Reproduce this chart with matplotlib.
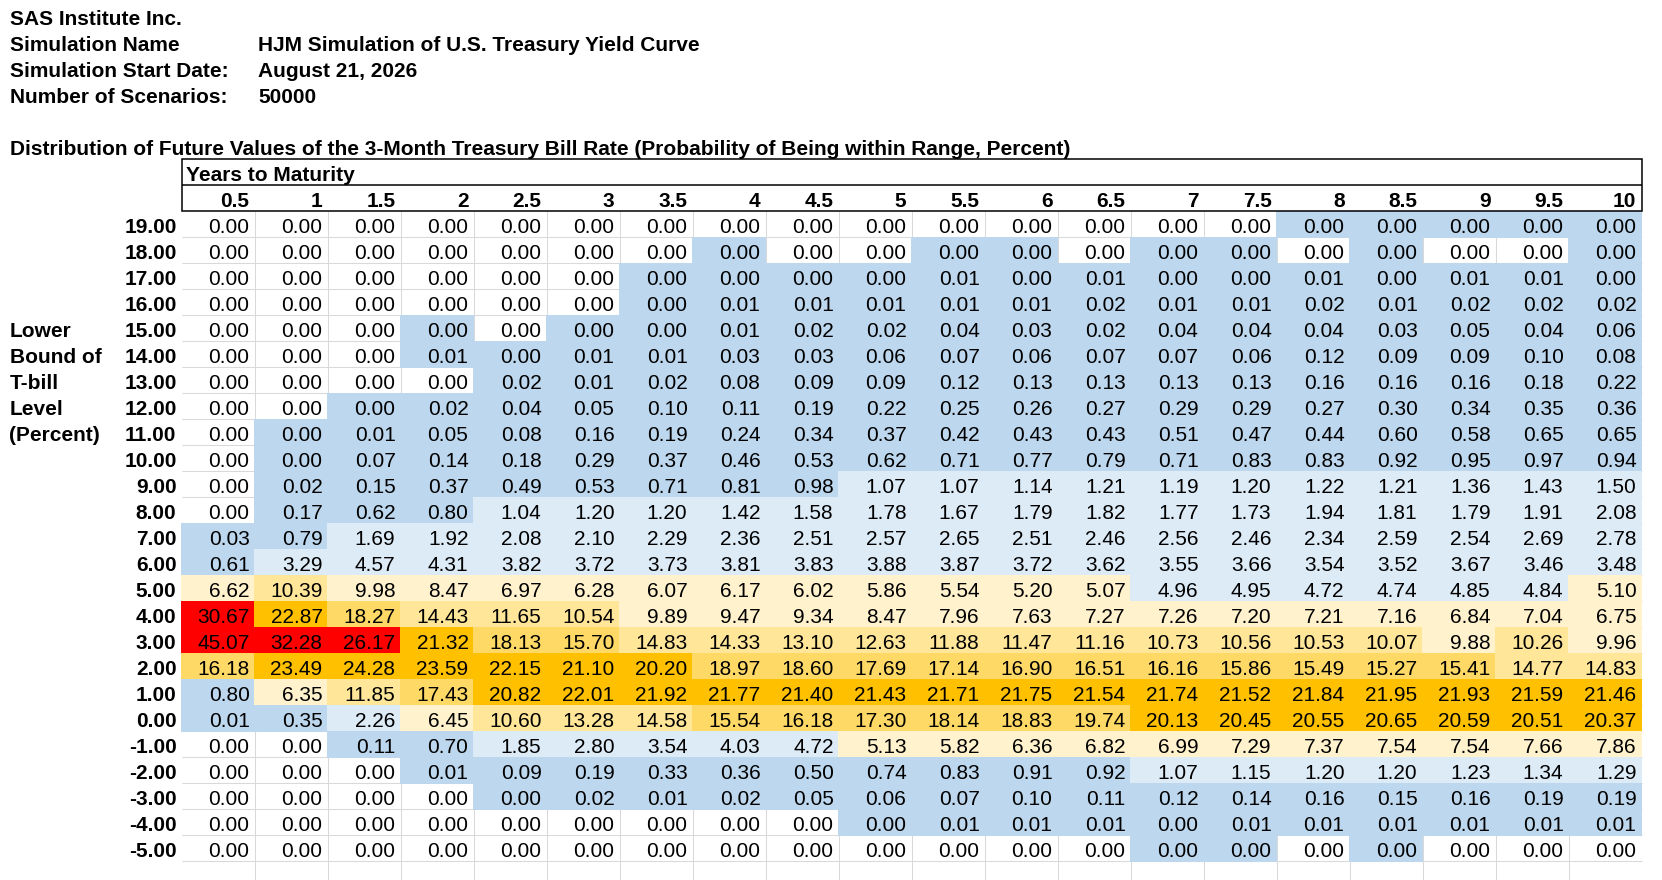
import numpy as np
import matplotlib.pyplot as plt
from matplotlib.patches import Rectangle

plt.rcParams['font.family'] = ['Liberation Sans', 'DejaVu Sans']

# header block
company = "SAS Institute Inc."
info_labels = ["Simulation Name", "Simulation Start Date:", "Number of Scenarios:"]
info_values = ["HJM Simulation of U.S. Treasury Yield Curve", "August 21, 2026", "50000"]
title = ("Distribution of Future Values of the 3-Month Treasury Bill Rate "
         "(Probability of Being within Range, Percent)")
col_title = "Years to Maturity"
row_title = ["Lower", "Bound of", "T-bill", "Level", "(Percent)"]

years = [0.5, 1, 1.5, 2, 2.5, 3, 3.5, 4, 4.5, 5, 5.5, 6, 6.5, 7, 7.5, 8, 8.5, 9, 9.5, 10]
lower_bounds = [19, 18, 17, 16, 15, 14, 13, 12, 11, 10, 9, 8, 7, 6, 5, 4, 3, 2, 1, 0,
                -1, -2, -3, -4, -5]

prob = np.array([
    [0.00, 0.00, 0.00, 0.00, 0.00, 0.00, 0.00, 0.00, 0.00, 0.00, 0.00, 0.00, 0.00, 0.00, 0.00, 0.00, 0.00, 0.00, 0.00, 0.00],
    [0.00, 0.00, 0.00, 0.00, 0.00, 0.00, 0.00, 0.00, 0.00, 0.00, 0.00, 0.00, 0.00, 0.00, 0.00, 0.00, 0.00, 0.00, 0.00, 0.00],
    [0.00, 0.00, 0.00, 0.00, 0.00, 0.00, 0.00, 0.00, 0.00, 0.00, 0.01, 0.00, 0.01, 0.00, 0.00, 0.01, 0.00, 0.01, 0.01, 0.00],
    [0.00, 0.00, 0.00, 0.00, 0.00, 0.00, 0.00, 0.01, 0.01, 0.01, 0.01, 0.01, 0.02, 0.01, 0.01, 0.02, 0.01, 0.02, 0.02, 0.02],
    [0.00, 0.00, 0.00, 0.00, 0.00, 0.00, 0.00, 0.01, 0.02, 0.02, 0.04, 0.03, 0.02, 0.04, 0.04, 0.04, 0.03, 0.05, 0.04, 0.06],
    [0.00, 0.00, 0.00, 0.01, 0.00, 0.01, 0.01, 0.03, 0.03, 0.06, 0.07, 0.06, 0.07, 0.07, 0.06, 0.12, 0.09, 0.09, 0.10, 0.08],
    [0.00, 0.00, 0.00, 0.00, 0.02, 0.01, 0.02, 0.08, 0.09, 0.09, 0.12, 0.13, 0.13, 0.13, 0.13, 0.16, 0.16, 0.16, 0.18, 0.22],
    [0.00, 0.00, 0.00, 0.02, 0.04, 0.05, 0.10, 0.11, 0.19, 0.22, 0.25, 0.26, 0.27, 0.29, 0.29, 0.27, 0.30, 0.34, 0.35, 0.36],
    [0.00, 0.00, 0.01, 0.05, 0.08, 0.16, 0.19, 0.24, 0.34, 0.37, 0.42, 0.43, 0.43, 0.51, 0.47, 0.44, 0.60, 0.58, 0.65, 0.65],
    [0.00, 0.00, 0.07, 0.14, 0.18, 0.29, 0.37, 0.46, 0.53, 0.62, 0.71, 0.77, 0.79, 0.71, 0.83, 0.83, 0.92, 0.95, 0.97, 0.94],
    [0.00, 0.02, 0.15, 0.37, 0.49, 0.53, 0.71, 0.81, 0.98, 1.07, 1.07, 1.14, 1.21, 1.19, 1.20, 1.22, 1.21, 1.36, 1.43, 1.50],
    [0.00, 0.17, 0.62, 0.80, 1.04, 1.20, 1.20, 1.42, 1.58, 1.78, 1.67, 1.79, 1.82, 1.77, 1.73, 1.94, 1.81, 1.79, 1.91, 2.08],
    [0.03, 0.79, 1.69, 1.92, 2.08, 2.10, 2.29, 2.36, 2.51, 2.57, 2.65, 2.51, 2.46, 2.56, 2.46, 2.34, 2.59, 2.54, 2.69, 2.78],
    [0.61, 3.29, 4.57, 4.31, 3.82, 3.72, 3.73, 3.81, 3.83, 3.88, 3.87, 3.72, 3.62, 3.55, 3.66, 3.54, 3.52, 3.67, 3.46, 3.48],
    [6.62, 10.39, 9.98, 8.47, 6.97, 6.28, 6.07, 6.17, 6.02, 5.86, 5.54, 5.20, 5.07, 4.96, 4.95, 4.72, 4.74, 4.85, 4.84, 5.10],
    [30.67, 22.87, 18.27, 14.43, 11.65, 10.54, 9.89, 9.47, 9.34, 8.47, 7.96, 7.63, 7.27, 7.26, 7.20, 7.21, 7.16, 6.84, 7.04, 6.75],
    [45.07, 32.28, 26.17, 21.32, 18.13, 15.70, 14.83, 14.33, 13.10, 12.63, 11.88, 11.47, 11.16, 10.73, 10.56, 10.53, 10.07, 9.88, 10.26, 9.96],
    [16.18, 23.49, 24.28, 23.59, 22.15, 21.10, 20.20, 18.97, 18.60, 17.69, 17.14, 16.90, 16.51, 16.16, 15.86, 15.49, 15.27, 15.41, 14.77, 14.83],
    [0.80, 6.35, 11.85, 17.43, 20.82, 22.01, 21.92, 21.77, 21.40, 21.43, 21.71, 21.75, 21.54, 21.74, 21.52, 21.84, 21.95, 21.93, 21.59, 21.46],
    [0.01, 0.35, 2.26, 6.45, 10.60, 13.28, 14.58, 15.54, 16.18, 17.30, 18.14, 18.83, 19.74, 20.13, 20.45, 20.55, 20.65, 20.59, 20.51, 20.37],
    [0.00, 0.00, 0.11, 0.70, 1.85, 2.80, 3.54, 4.03, 4.72, 5.13, 5.82, 6.36, 6.82, 6.99, 7.29, 7.37, 7.54, 7.54, 7.66, 7.86],
    [0.00, 0.00, 0.00, 0.01, 0.09, 0.19, 0.33, 0.36, 0.50, 0.74, 0.83, 0.91, 0.92, 1.07, 1.15, 1.20, 1.20, 1.23, 1.34, 1.29],
    [0.00, 0.00, 0.00, 0.00, 0.00, 0.02, 0.01, 0.02, 0.05, 0.06, 0.07, 0.10, 0.11, 0.12, 0.14, 0.16, 0.15, 0.16, 0.19, 0.19],
    [0.00, 0.00, 0.00, 0.00, 0.00, 0.00, 0.00, 0.00, 0.00, 0.00, 0.01, 0.01, 0.01, 0.00, 0.01, 0.01, 0.01, 0.01, 0.01, 0.01],
    [0.00, 0.00, 0.00, 0.00, 0.00, 0.00, 0.00, 0.00, 0.00, 0.00, 0.00, 0.00, 0.00, 0.00, 0.00, 0.00, 0.00, 0.00, 0.00, 0.00],
])

# 'o' = exactly zero (no shading), '.' = nonzero (0.00 cells here are tiny but > 0)
exact_zero = [
    "ooooooooooooooo.....",
    "ooooooo.oo..o..o.oo.",
    "oooooo..............",
    "oooooo..............",
    "ooo.o...............",
    "ooo.................",
    "oooo................",
    "oo..................",
    "o...................",
    "o...................",
    "o...................",
    "o...................",
    "....................",
    "....................",
    "....................",
    "....................",
    "....................",
    "....................",
    "....................",
    "....................",
    "oo..................",
    "ooo.................",
    "oooo................",
    "ooooooooo...........",
    "ooooooooooooo..o.ooo",
]

# conditional formatting bands (upper bound, colour)
bands = [(1, '#BDD7EE'), (5, '#DDEBF7'), (10, '#FFF2CC'), (15, '#FFE699'),
         (20, '#FFD966'), (25, '#FFC000'), (1e9, '#FF0000')]


def cell_color(v):
    for upper, c in bands:
        if v < upper:
            return c


# sheet geometry (pixels)
W, H = 1662, 880
row_h = 26
first_bottom = 29.3          # bottom of sheet row 1
x0 = 181.5                   # left of first data column
col_w = 73
pad = 5
fs = 15


def row_bottom(r):           # r: 1-based sheet row
    return first_bottom + row_h * (r - 1)


fig = plt.figure(figsize=(W / 100, H / 100), dpi=100)
ax = fig.add_axes([0, 0, 1, 1])
ax.set_xlim(0, W)
ax.set_ylim(H, 0)
ax.axis('off')

# header block
ax.text(9.5, row_bottom(1) - 4.6, company, fontsize=fs, fontweight='bold')
for i, (lab, val) in enumerate(zip(info_labels, info_values)):
    y = row_bottom(2 + i) - 4.6
    ax.text(9.5, y, lab, fontsize=fs, fontweight='bold')
    ax.text(x0 + col_w + 3.5, y, val, fontsize=fs, fontweight='bold')
ax.text(9.5, row_bottom(6) - 4.6, title, fontsize=fs, fontweight='bold')

# column header box
n_cols = len(years)
n_rows = len(lower_bounds)
right = x0 + col_w * n_cols
top7 = row_bottom(6)
ax.add_patch(Rectangle((x0, top7), right - x0, 2 * row_h, fill=False,
                       edgecolor='black', lw=1.1, zorder=4))
ax.hlines(row_bottom(7), x0, right, color='black', lw=1.1, zorder=4)
ax.text(x0 + 4, row_bottom(7) - 4.6, col_title, fontsize=fs, fontweight='bold', zorder=5)
for j, yr in enumerate(years):
    ax.text(x0 + col_w * (j + 1) - pad, row_bottom(8) - 4.6, f"{yr:g}",
            fontsize=fs, fontweight='bold', ha='right', zorder=5)

# grid lines (hidden under shaded cells)
data_top = row_bottom(8)
ax.vlines([x0 + col_w * k for k in range(1, n_cols)], data_top, H,
          color='#D9D9D9', lw=0.75, zorder=1)
ax.hlines([row_bottom(9 + i) for i in range(n_rows)], x0, right,
          color='#D9D9D9', lw=0.75, zorder=1)

# cells
for i, lb in enumerate(lower_bounds):
    r = 9 + i
    yb = row_bottom(r)
    ax.text(x0 - pad, yb - 4.6, f"{lb:.2f}", fontsize=fs, fontweight='bold',
            ha='right', zorder=5)
    for j in range(n_cols):
        v = prob[i, j]
        if exact_zero[i][j] != 'o':
            ax.add_patch(Rectangle((x0 + col_w * j - 0.5, yb - row_h - 0.5),
                                   col_w + 1, row_h + 1, facecolor=cell_color(v),
                                   lw=0, zorder=2))
        ax.text(x0 + col_w * (j + 1) - pad, yb - 4.6, f"{v:.2f}", fontsize=fs,
                ha='right', zorder=5)

# row title in column A
for k, t in enumerate(row_title):
    ax.text(9.5, row_bottom(13 + k) - 4.6, t, fontsize=fs, fontweight='bold')

fig.savefig('out.png', dpi=100)
